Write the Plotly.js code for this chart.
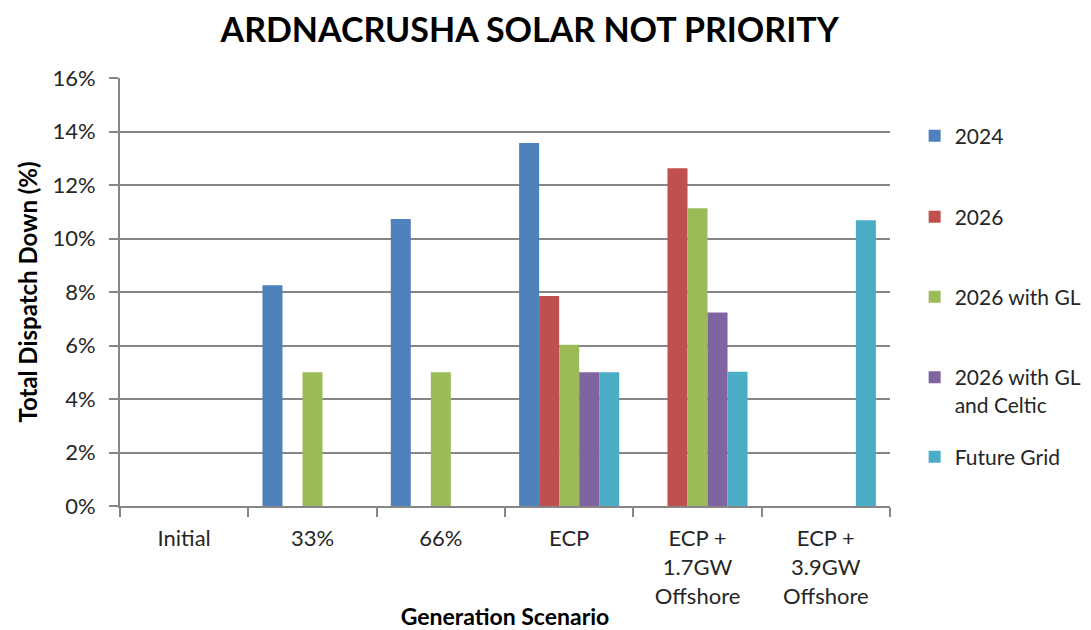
<!DOCTYPE html>
<html>
<head>
<meta charset="utf-8">
<script src="https://cdn.plot.ly/plotly-3.0.1.min.js"></script>
<style>html,body{margin:0;padding:0;background:#fff;}#chart{width:1091px;height:630px;}</style>
</head>
<body>
<div id="chart"></div>
<script>
const categories = ["Initial", "33%", "66%", "ECP", "ECP +<br>1.7GW<br>Offshore", "ECP +<br>3.9GW<br>Offshore"];
const seriesNames = ["2024", "2026", "2026 with GL", "2026 with GL<br>and Celtic", "Future Grid"];
const s2024 = [null, 0.0825, 0.1073, 0.1357, null, null];
const s2026 = [null, null, null, 0.0785, 0.1263, null];
const s2026GL = [null, 0.0500, 0.0500, 0.0603, 0.1113, null];
const s2026GLCeltic = [null, null, null, 0.0500, 0.0723, null];
const sFutureGrid = [null, null, null, 0.0500, 0.0502, 0.1068];
const yTickVals = [0, 0.02, 0.04, 0.06, 0.08, 0.10, 0.12, 0.14, 0.16];

const colors = ["#4F81BD", "#C0504D", "#9BBB59", "#8064A2", "#4BACC6"];
const allSeries = [s2024, s2026, s2026GL, s2026GLCeltic, sFutureGrid];
const FONT = "Lato, 'Open Sans', sans-serif";
const legendNames = ["legend", "legend2", "legend3", "legend4", "legend5"];
const legendY = [136, 217, 297, 377, 457];

const traces = allSeries.map((vals, i) => ({
  type: "bar",
  name: seriesNames[i],
  x: categories,
  y: vals,
  marker: {color: colors[i]},
  legend: legendNames[i],
  hoverinfo: "skip"
}));

const layout = {
  width: 1091, height: 630,
  margin: {l: 120, r: 201, t: 78, b: 124, autoexpand: false},
  paper_bgcolor: "#fff", plot_bgcolor: "#fff",
  font: {family: FONT, color: "#262626", size: 20},
  title: {text: "<b>ARDNACRUSHA SOLAR NOT PRIORITY</b>", x: 0.532, xref: "paper", xanchor: "center", y: 0.952, yanchor: "middle", font: {size: 34, color: "#000", family: FONT}},
  barmode: "group",
  bargap: 0.22,
  bargroupgap: 0,
  showlegend: true,
  xaxis: {
    type: "category",
    tickson: "boundaries",
    ticks: "outside", ticklen: 9, tickwidth: 2, tickcolor: "#868686",
    showline: true, linecolor: "#868686", linewidth: 2,
    showgrid: false, zeroline: false,
    ticklabelstandoff: 12,
    tickfont: {size: 22, color: "#262626"},
    title: {text: "<b>Generation Scenario</b>", font: {size: 23, color: "#000"}, standoff: 2},
    automargin: false,
    fixedrange: true
  },
  yaxis: {
    range: [0, 0.16],
    tickvals: yTickVals,
    tickformat: ".0%",
    ticks: "outside", ticklen: 9, tickwidth: 2, tickcolor: "#868686",
    showline: true, linecolor: "#868686", linewidth: 2,
    showgrid: true, gridcolor: "#868686", gridwidth: 2,
    zeroline: false,
    ticklabelstandoff: 9,
    tickfont: {size: 22, color: "#262626"},
    title: {text: "<b>Total Dispatch Down (%)</b>", font: {size: 24, color: "#000"}, standoff: 8},
    automargin: false,
    fixedrange: true
  }
};
legendNames.forEach((ln, i) => {
  layout[ln] = {
    x: 1.032, xref: "paper", xanchor: "left",
    y: (506 - legendY[i]) / 428, yref: "paper", yanchor: "middle",
    valign: "top",
    bgcolor: "rgba(0,0,0,0)",
    font: {size: 21, color: "#262626", family: FONT},
    itemclick: false, itemdoubleclick: false
  };
});
layout.legend4.yanchor = "top";
layout.legend4.y = (506 - legendY[3] + 20) / 428;

Plotly.newPlot("chart", traces, layout, {displayModeBar: false, staticPlot: true});
</script>
</body>
</html>
